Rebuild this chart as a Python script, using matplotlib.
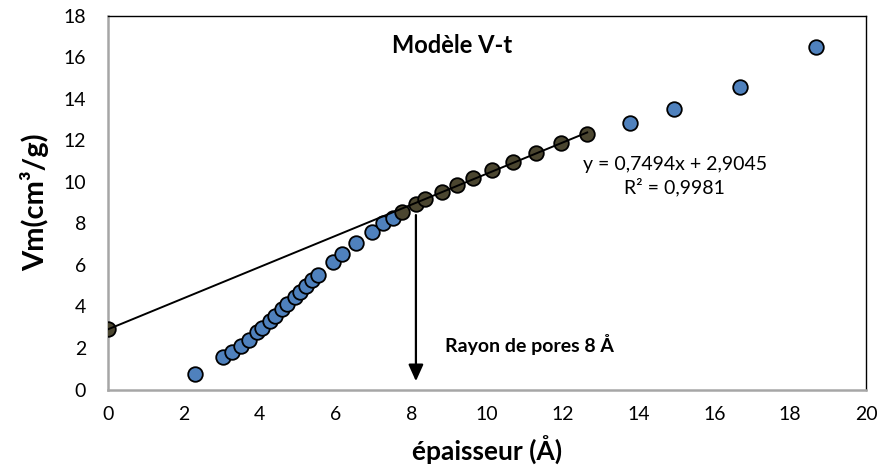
import matplotlib.pyplot as plt
import numpy as np

plt.rcParams["font.family"] = ["Lato", "DejaVu Sans"]

# t-plot: thickness (Å) vs adsorbed volume (cm3/g)
t_all = [2.30, 3.03, 3.27, 3.51, 3.72, 3.93, 4.06, 4.27, 4.41, 4.59, 4.72,
         4.93, 5.07, 5.22, 5.38, 5.54, 5.94, 6.17, 6.54, 6.97, 7.26, 7.52,
         13.77, 14.93, 16.68, 18.68]
vm_all = [0.75, 1.55, 1.81, 2.09, 2.38, 2.77, 2.96, 3.30, 3.54, 3.88, 4.12,
          4.45, 4.69, 4.98, 5.27, 5.51, 6.14, 6.52, 7.05, 7.58, 8.02, 8.26,
          12.84, 13.51, 14.57, 16.49]

# linear region used for the fit (plus the intercept point)
t_fit = [0.0, 7.76, 8.13, 8.36, 8.81, 9.21, 9.63, 10.13, 10.69, 11.29, 11.95, 12.64]
vm_fit = [2.9045, 8.55, 8.92, 9.17, 9.51, 9.85, 10.20, 10.55, 10.95, 11.38, 11.85, 12.28]

slope, intercept, r2 = 0.7494, 2.9045, 0.9981
pore_t = 8.12

fig = plt.figure(figsize=(8.79, 4.68), dpi=100)
ax = fig.add_axes([0.1232, 0.1677, 0.8620, 0.7988])

ax.plot(t_all, vm_all, "o", ms=10.5, mfc="#4F81BD", mec="black", mew=1.3, zorder=3)
ax.plot(t_fit, vm_fit, "o", ms=10.5, mfc="#4B4630", mec="black", mew=1.3, zorder=4)

xs = np.array([0.0, t_fit[-1]])
ax.plot(xs, slope * xs + intercept, color="black", lw=1.4, zorder=5)

ax.annotate("", xy=(pore_t, 0.4), xytext=(pore_t, 8.4),
            arrowprops=dict(arrowstyle="-|>,head_width=0.45,head_length=1.0",
                            color="black", lw=1.6, shrinkA=0, shrinkB=0),
            zorder=2)
ax.text(8.9, 2.15, "Rayon de pores 8 Å", fontsize=14, fontweight="bold",
        ha="left", va="center")

# trendline label, centred like a spreadsheet label
ax.text(14.95, 10.85, f"y = {slope}x + {intercept}".replace(".", ","),
        fontsize=14, ha="center", va="center")
ax.text(14.95, 9.75, f"R² = {r2}".replace(".", ","),
        fontsize=14, ha="center", va="center")

ax.text(9.07, 16.55, "Modèle V-t", fontsize=17, fontweight="bold",
        ha="center", va="center")

ax.set_xlim(0, 20)
ax.set_ylim(0, 18)
ax.set_xticks(range(0, 21, 2))
ax.set_yticks(range(0, 19, 2))
ax.tick_params(length=0, labelsize=14)
ax.tick_params(axis="x", pad=12)
ax.tick_params(axis="y", pad=16)

for side in ("left", "bottom"):
    ax.spines[side].set_color("#A6A6A6")
    ax.spines[side].set_linewidth(1.8)
for side in ("top", "right"):
    ax.spines[side].set_color("black")
    ax.spines[side].set_linewidth(1.0)

ax.set_xlabel("épaisseur (Å)", fontsize=19, fontweight="bold", labelpad=9)
ax.set_ylabel("Vm(cm³/g)", fontsize=21, fontweight="bold", labelpad=10)

fig.savefig("out.png", dpi=100)
